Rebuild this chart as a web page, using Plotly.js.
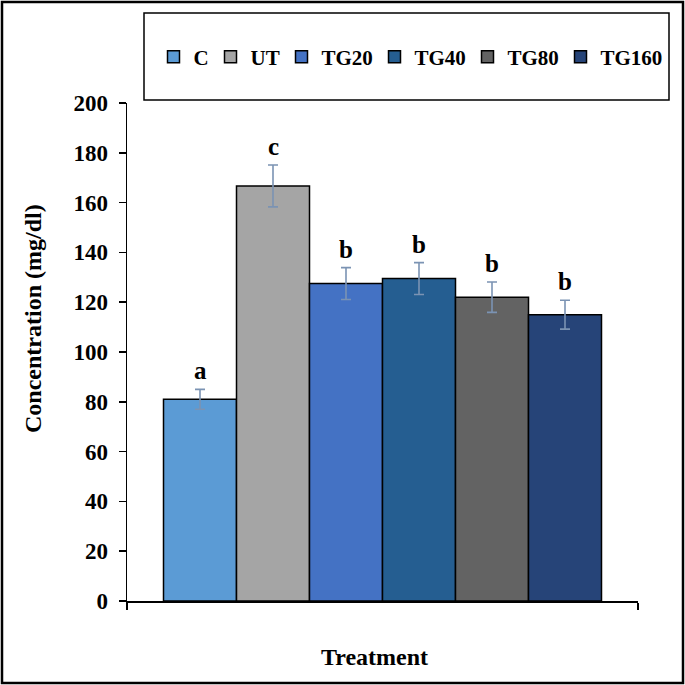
<!DOCTYPE html>
<html>
<head>
<meta charset="utf-8">
<script src="https://cdn.plot.ly/plotly-3.0.1.min.js"></script>
<style>
  html, body { margin: 0; padding: 0; background: #fff; }
  #chart { width: 685px; height: 685px; }
</style>
</head>
<body>
<div id="chart"></div>
<script>
// values
const groups = ["C", "UT", "TG20", "TG40", "TG80", "TG160"];
const means = [81, 166.7, 127.5, 129.5, 122, 115];
const errs = [4, 8.4, 6.4, 6.4, 6.1, 5.8];
const letters = ["a", "c", "b", "b", "b", "b"];
const colors = ["#5b9bd5", "#a5a5a5", "#4472c4", "#255e91", "#636363", "#264478"];

const serif = "Liberation Serif, Times New Roman, serif";
const errColor = "#7b93b3";
const legendSize = 21;

// legend entries sit closer together than plotly's default, so size them from the text
function textWidth(s, size) {
  const ctx = document.createElement("canvas").getContext("2d");
  ctx.font = "bold " + size + "px 'Liberation Serif'";
  return ctx.measureText(s).width;
}

const traces = groups.map((g, i) => ({
  type: "bar",
  name: g,
  x: [i],
  y: [means[i]],
  width: 1,
  legendwidth: Math.max(1, Math.round(textWidth(g, legendSize)) - 3),
  marker: { color: colors[i], line: { color: "#000", width: 1.5 } },
  error_y: { type: "data", array: [errs[i]], visible: true, color: errColor, thickness: 1.6, width: 5 },
  hoverinfo: "name+y"
}));

const titleFont = { family: serif, size: 24, weight: "bold", color: "#000" };

// margins in px, used to place the frame, legend box and titles in paper units
const W = 685, H = 685;
const m = { l: 127, r: 47, t: 103, b: 84 };
const pw = W - m.l - m.r, ph = H - m.t - m.b;
const px = (x) => (x - m.l) / pw;
const py = (y) => (H - m.b - y) / ph;

const annotations = groups.map((g, i) => ({
  x: i,
  y: means[i] + errs[i],
  xref: "x", yref: "y",
  text: letters[i],
  showarrow: false,
  yanchor: "bottom",
  yshift: 3,
  font: { family: serif, size: 25, weight: "bold", color: "#000" }
}));

annotations.push(
  { xref: "paper", yref: "paper", x: px(374), y: py(657), text: "Treatment",
    showarrow: false, xanchor: "center", yanchor: "middle", font: titleFont },
  { xref: "paper", yref: "paper", x: px(33), y: py(319), text: "Concentration (mg/dl)",
    textangle: -90, showarrow: false, xanchor: "center", yanchor: "middle", font: titleFont }
);

const shapes = [
  { type: "rect", xref: "paper", yref: "paper", x0: px(2), x1: px(683), y0: py(683), y1: py(2),
    line: { color: "#000", width: 2.5 }, fillcolor: "rgba(0,0,0,0)" },
  { type: "rect", xref: "paper", yref: "paper", x0: px(144), x1: px(669), y0: py(100), y1: py(13),
    line: { color: "#000", width: 1.5 }, fillcolor: "rgba(0,0,0,0)" }
];

const layout = {
  width: W, height: H,
  margin: m,
  paper_bgcolor: "#fff",
  plot_bgcolor: "#fff",
  barmode: "overlay",
  showlegend: true,
  legend: {
    orientation: "h",
    x: px(409), xanchor: "center",
    y: py(57), yanchor: "middle",
    font: { family: serif, size: legendSize, weight: "bold", color: "#000" },
    itemwidth: 30,
    bgcolor: "rgba(0,0,0,0)",
    traceorder: "normal"
  },
  xaxis: {
    type: "linear",
    range: [-1, 6],
    tickvals: [-1, 6],
    showticklabels: false,
    ticks: "outside", ticklen: 7, tickwidth: 1.5, tickcolor: "#000",
    showline: true, linecolor: "#000", linewidth: 1.5,
    showgrid: false, zeroline: false
  },
  yaxis: {
    range: [0, 200],
    dtick: 20,
    ticks: "outside", ticklen: 7, tickwidth: 1.5, tickcolor: "#000",
    ticklabelstandoff: 6,
    tickfont: { family: serif, size: 23, weight: "bold", color: "#000" },
    showline: true, linecolor: "#000", linewidth: 1.5,
    showgrid: false, zeroline: false
  },
  annotations,
  shapes
};

Plotly.newPlot("chart", traces, layout, { displayModeBar: false, staticPlot: true });
</script>
</body>
</html>
